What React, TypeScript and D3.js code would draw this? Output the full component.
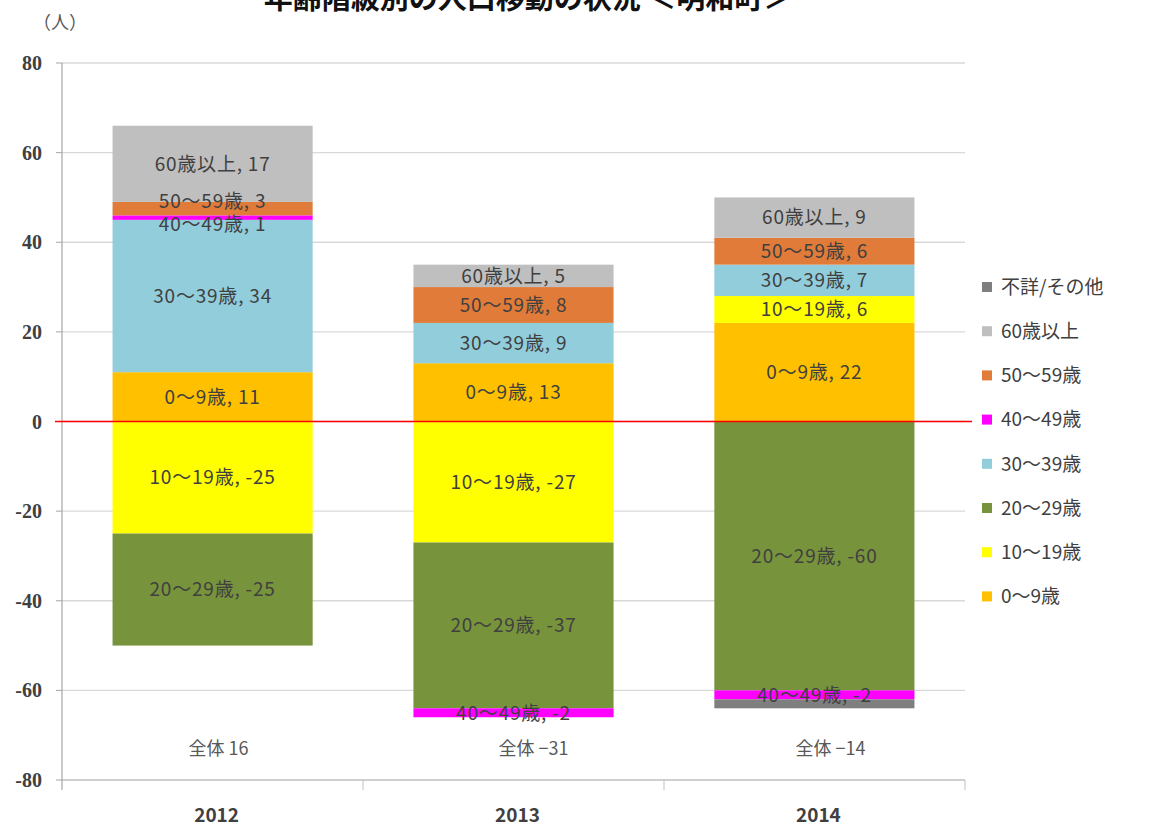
import React from "react";
import * as d3 from "d3";

const categories = ["2012", "2013", "2014"];
const seriesNames = ["0〜9歳", "10〜19歳", "20〜29歳", "30〜39歳", "40〜49歳", "50〜59歳", "60歳以上", "不詳/その他"];
const seriesColors = ["#ffc000", "#ffff00", "#77933c", "#92cddc", "#ff00ff", "#e07b39", "#bfbfbf", "#7f7f7f"];
const seriesLabelled = [true, true, true, true, true, true, true, false];
const v0to9 = [11, 13, 22];
const v10to19 = [-25, -27, 6];
const v20to29 = [-25, -37, -60];
const v30to39 = [34, 9, 7];
const v40to49 = [1, -2, -2];
const v50to59 = [3, 8, 6];
const v60plus = [17, 5, 9];
const vUnknown = [0, 0, -2];
const totals = [16, -31, -14];
const yTicks = [80, 60, 40, 20, 0, -20, -40, -60, -80];

const seriesValues = [v0to9, v10to19, v20to29, v30to39, v40to49, v50to59, v60plus, vUnknown];
const legendOrder = [7, 6, 5, 4, 3, 2, 1, 0];
// layout: horizontal nudges of the hand-placed total text boxes
const totalNudge = [6, 20, 16];

const FONT = "'Noto Sans CJK JP', 'Noto Sans', sans-serif";
const TXT = "#404040";

export default function App() {
  const W = 1164, H = 830;
  const x = d3.scaleBand<string>().domain(categories).range([62, 965]).paddingInner(0.335).paddingOuter(0.168);
  const y = d3.scaleLinear().domain([-80, 80]).range([780, 63]);

  const rows = categories.map((c, i) => {
    const r: any = { cat: c };
    seriesNames.forEach((s, j) => (r[s] = seriesValues[j][i]));
    return r;
  });
  const stack = d3.stack<any>().keys(seriesNames).order(d3.stackOrderNone).offset(d3.stackOffsetDiverging);
  const layers = stack(rows);

  const boundaries = [0, 1, 2, 3].map((i) => 62 + i * ((965 - 62) / 3));

  type Lab = { x: number; y: number; text: string; key: string };
  const labels: Lab[] = [];
  categories.forEach((c, i) => {
    const col: Lab[] = [];
    layers.forEach((layer, j) => {
      const v = seriesValues[j][i];
      if (v === 0 || !seriesLabelled[j]) return;
      const d = layer[i];
      col.push({
        x: x(c)! + x.bandwidth() / 2,
        y: y((d[0] + d[1]) / 2),
        text: `${seriesNames[j]}, ${v}`,
        key: `${c}-${j}`,
      });
    });
    col.sort((a, b) => a.y - b.y);
    const minGap = 23;
    for (let k = 1; k < col.length; k++) {
      const gap = col[k].y - col[k - 1].y;
      if (gap < minGap) {
        const mid = (col[k].y + col[k - 1].y) / 2;
        col[k - 1].y = mid - minGap / 2;
        col[k].y = mid + minGap / 2;
      }
    }
    labels.push(...col);
  });

  const fmtTotal = (t: number) => (t < 0 ? `全体 −${Math.abs(t)}` : `全体 ${t}`);

  return (
    <div style={{ position: "absolute", left: 0, top: 0 }}>
      <svg width={W} height={H} style={{ display: "block", background: "#fff" }} fontFamily={FONT}>
        <rect x={0} y={0} width={W} height={H} fill="#fff" />
        <text x={528} y={9} textAnchor="middle" fontSize={29} fontWeight="bold" fill="#111">
          年齢階級別の人口移動の状況 ＜明和町＞
        </text>
        <text x={60} y={29} textAnchor="middle" fontSize={18} fill="#595959">（人）</text>

        {yTicks.map((t) => (
          <g key={t}>
            <line x1={62} x2={965} y1={y(t)} y2={y(t)} stroke={t === -80 ? "#bfbfbf" : "#d9d9d9"} strokeWidth={1.3} />
            <line x1={56} x2={62} y1={y(t)} y2={y(t)} stroke="#a6a6a6" />
            <text x={42} y={y(t)} dy="0.35em" textAnchor="end" fontSize={20} fontWeight="bold"
              fontFamily="'Liberation Serif', serif" fill={TXT}>{t}</text>
          </g>
        ))}
        <line x1={62} x2={62} y1={63} y2={790} stroke="#a6a6a6" strokeWidth={1.2} />
        {boundaries.slice(1).map((b, i) => (
          <line key={i} x1={b} x2={b} y1={780} y2={790} stroke="#bfbfbf" />
        ))}

        {layers.map((layer, j) => (
          <g key={seriesNames[j]}>
            {layer.map((d, i) => {
              const h = Math.abs(y(d[0]) - y(d[1]));
              if (h === 0) return null;
              return (
                <rect
                  key={i}
                  x={x(categories[i])!}
                  width={x.bandwidth()}
                  y={Math.min(y(d[0]), y(d[1]))}
                  height={h}
                  fill={seriesColors[j]}
                />
              );
            })}
          </g>
        ))}

        <line x1={55} x2={972} y1={y(0)} y2={y(0)} stroke="#ff0000" strokeWidth={1.5} />

        {labels.map((l) => (
          <text key={l.key} x={l.x} y={l.y} dy="0.36em" textAnchor="middle" fontSize={19}
            letterSpacing={0.8} fill={TXT}>
            {l.text}
          </text>
        ))}

        {totals.map((t, i) => (
          <text key={i} x={x(categories[i])! + x.bandwidth() / 2 + totalNudge[i]} y={y(-73)} dy="0.36em"
            textAnchor="middle" fontSize={18} fill="#595959">
            {fmtTotal(t)}
          </text>
        ))}

        {categories.map((c) => (
          <text key={c} x={x(c)! + x.bandwidth() / 2 + 4} y={815} dy="0.36em" textAnchor="middle" fontSize={19}
            fontWeight={600} fill={TXT}>
            {c}
          </text>
        ))}

        {legendOrder.map((j, k) => {
          const ly = 287 + k * 44.2;
          return (
            <g key={"lg" + j}>
              <rect x={982} y={ly - 5} width={10} height={10} fill={seriesColors[j]} />
              <text x={1001} y={ly} dy="0.36em" fontSize={19} fill={TXT}>{seriesNames[j]}</text>
            </g>
          );
        })}
      </svg>
    </div>
  );
}
